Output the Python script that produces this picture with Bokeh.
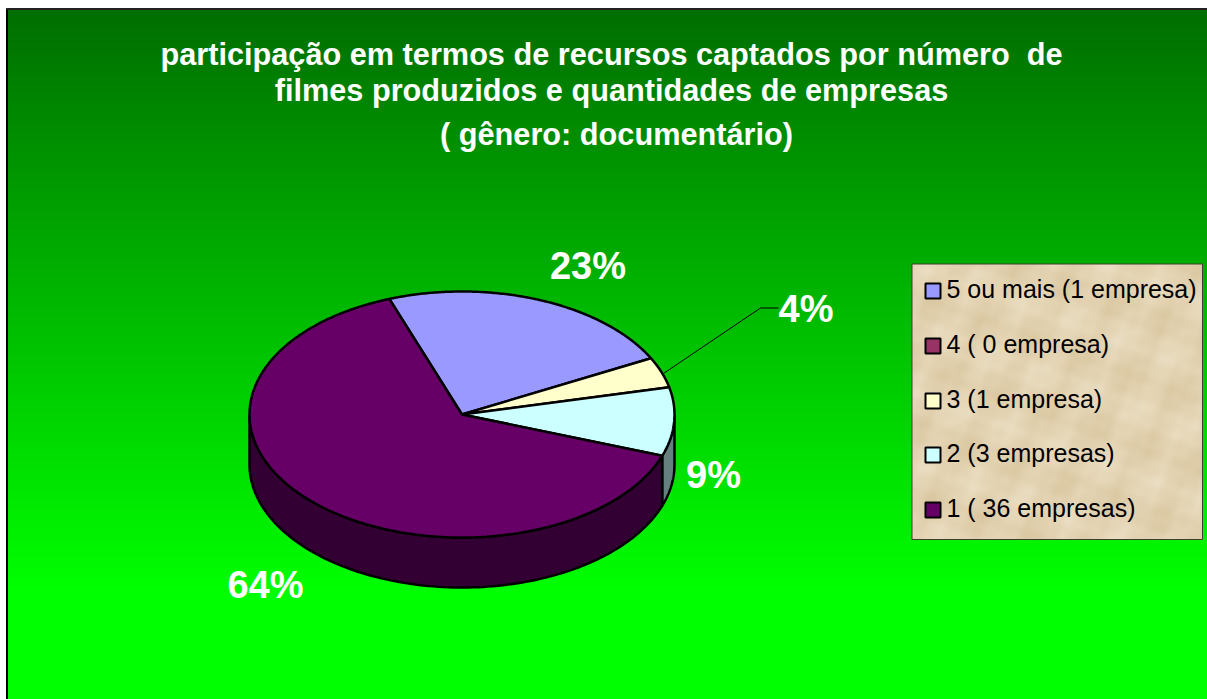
import numpy as np
from bokeh.plotting import figure
from bokeh.models import Range1d
from bokeh.core.properties import value
from bokeh.embed import file_html
from bokeh.resources import INLINE

# --- data ---
categories = ["5 ou mais (1 empresa)", "4 ( 0 empresa)", "3 (1 empresa)", "2 (3 empresas)", "1 ( 36 empresas)"]
shares = [23, 0, 4, 9, 64]
top_colors = ["#9999ff", "#993366", "#ffffcc", "#ccffff", "#660066"]
side_colors = ["#4d4d80", "#4d1933", "#808066", "#668080", "#330033"]
title_lines = ["participação em termos de recursos captados por número\u00a0 de",
               "filmes produzidos e quantidades de empresas",
               "( gênero: documentário)"]
label_text = ["23%", "4%", "9%", "64%"]

# --- layout constants (pixel-like data space) ---
W, H = 1207, 699
CX, CY, RX, RY, DEPTH = 461.5, 414, 212.5, 123, 50
START = -20.0
FONT = "Liberation Sans"

p = figure(width=W, height=H, output_backend="svg", toolbar_location=None,
           x_range=Range1d(0, W), y_range=Range1d(H, 0),
           min_border=0, min_border_left=0, min_border_right=0, min_border_top=0, min_border_bottom=0,
           x_axis_location=None, y_axis_location=None, outline_line_color=None)
p.grid.visible = False
p.background_fill_color = "#ffffff"
p.border_fill_color = "#ffffff"

# background gradient
edges = np.arange(8, 592, 4)
g = np.clip(110 + (edges + 2 - 9) * (255 - 110) / (590 - 9), 0, 255).astype(int)
p.quad(left=6, right=W, top=edges, bottom=edges + 4.5,
       fill_color=["#00%02x00" % v for v in g], line_color=None)
p.quad(left=6, right=W, top=590, bottom=H, fill_color="#00ff00", line_color=None)
p.line([6.5, 6.5], [8, H], line_color="#000000", line_width=2)
p.line([6, W], [8.5, 8.5], line_color="#222222", line_width=2)

# pie
def pt(deg):
    a = np.radians(deg)
    return CX + RX * np.sin(a), CY - RY * np.cos(a)

frac = np.cumsum([0] + shares) / sum(shares) * 360 + START

# sides (only the part of each slice facing the viewer, 90..270 deg)
for i in range(len(shares)):
    a0, a1 = max(frac[i], 90.0), min(frac[i + 1], 270.0)
    if a1 <= a0:
        continue
    t = np.linspace(a0, a1, 120)
    x, y = pt(t)
    xs = np.concatenate([x, x[::-1]])
    ys = np.concatenate([y, y[::-1] + DEPTH])
    p.patch(xs, ys, fill_color=side_colors[i], line_color="#000000", line_width=2.5)

# tops
for i in range(len(shares)):
    if shares[i] == 0:
        continue
    t = np.linspace(frac[i], frac[i + 1], 160)
    x, y = pt(t)
    p.patch(np.concatenate([[CX], x]), np.concatenate([[CY], y]),
            fill_color=top_colors[i], line_color="#000000", line_width=2.5)

# leader line of the 4% label
p.line([663, 760, 778], [373, 307.5, 307.5], line_color="#000000", line_width=1)

# data labels
p.text(x=[587.5, 805.5, 713, 265], y=[265.5, 308.5, 474, 584], text=label_text,
       text_color="#ffffff", text_font=value(FONT), text_font_style="bold",
       text_font_size="38px", text_align="center", text_baseline="middle")

# title
p.text(x=[611, 611, 616], y=[53.5, 90, 134], text=title_lines,
       text_color="#ffffff", text_font=value(FONT), text_font_style="bold",
       text_font_size="30.7px", text_align="center", text_baseline="middle")

# legend box with parchment-like shading
lx0, lx1, ly0, ly1 = 911.5, 1202, 263.5, 539
yy, xx = np.mgrid[0:138, 0:145]
n = (np.sin(xx * 0.21 + yy * 0.13) + np.sin(xx * 0.07 - yy * 0.19 + 1.3)
     + 0.6 * np.sin(xx * 0.37 - yy * 0.29 + 0.4) * np.sin(xx * 0.11 + yy * 0.41)
     + 0.4 * np.sin(xx * 0.53 + yy * 0.47 + 2.0) * np.sin(xx * 0.29 - yy * 0.17))
img = np.zeros(xx.shape, dtype=np.uint32)
v = img.view(dtype=np.uint8).reshape((*xx.shape, 4))
v[..., 0] = np.clip(227 + n * 3, 0, 255)
v[..., 1] = np.clip(211 + n * 4, 0, 255)
v[..., 2] = np.clip(178 + n * 6, 0, 255)
v[..., 3] = 255
p.image_rgba(image=[img], x=lx0, y=ly0, dw=lx1 - lx0, dh=ly1 - ly0)
p.quad(left=lx0, right=lx1, top=ly0, bottom=ly1, fill_color=None, line_color="#404030", line_width=1)

ly = [290, 345, 400, 454, 509]
p.quad(left=925, right=940, top=[v_ - 7 for v_ in ly], bottom=[v_ + 8 for v_ in ly],
       fill_color=top_colors, line_color="#000000", line_width=2)
p.text(x=946, y=[v_ - 2 for v_ in ly], text=categories, text_color="#000000", text_font=value(FONT),
       text_font_size="25px", text_align="left", text_baseline="middle")

open("out.html", "w").write(file_html(p, INLINE))
